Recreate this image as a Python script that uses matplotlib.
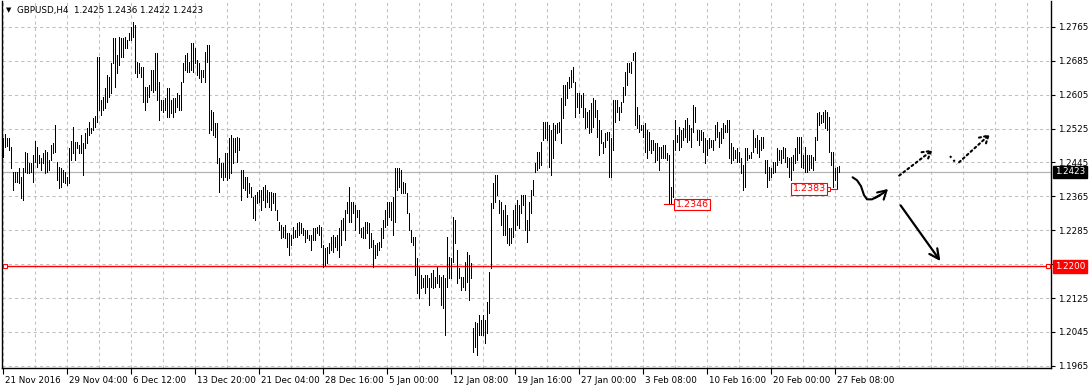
import matplotlib
matplotlib.use("Agg")
import matplotlib.pyplot as plt
import numpy as np
from matplotlib.transforms import blended_transform_factory, ScaledTranslation

symbol = "GBPUSD,H4"
last_ohlc = ["1.2425", "1.2436", "1.2422", "1.2423"]

# H4 bar highs / lows, 21 Nov 2016 -> 27 Feb 2017
highs = [
    1.2502, 1.2512, 1.2502, 1.2502, 1.2481, 1.2422, 1.2422, 1.2422, 1.2432, 1.2410,
    1.2432, 1.2469, 1.2467, 1.2443, 1.2443, 1.2462, 1.2495, 1.2481, 1.2462, 1.2455,
    1.2467, 1.2474, 1.2469, 1.2450, 1.2486, 1.2491, 1.2533, 1.2446, 1.2434, 1.2432,
    1.2427, 1.2422, 1.2410, 1.2479, 1.2495, 1.2528, 1.2493, 1.2493, 1.2486, 1.2509,
    1.2491, 1.2514, 1.2526, 1.2540, 1.2526, 1.2550, 1.2554, 1.2693, 1.2693, 1.2592,
    1.2599, 1.2620, 1.2651, 1.2646, 1.2679, 1.2738, 1.2738, 1.2698, 1.2741, 1.2738,
    1.2738, 1.2741, 1.2734, 1.2750, 1.2764, 1.2776, 1.2769, 1.2682, 1.2679, 1.2670,
    1.2670, 1.2623, 1.2623, 1.2627, 1.2663, 1.2663, 1.2703, 1.2703, 1.2634, 1.2592,
    1.2592, 1.2597, 1.2620, 1.2620, 1.2592, 1.2597, 1.2597, 1.2609, 1.2604, 1.2634,
    1.2679, 1.2698, 1.2703, 1.2682, 1.2727, 1.2727, 1.2715, 1.2686, 1.2679, 1.2663,
    1.2663, 1.2705, 1.2722, 1.2722, 1.2568, 1.2564, 1.2538, 1.2538, 1.2455, 1.2443,
    1.2443, 1.2467, 1.2467, 1.2502, 1.2509, 1.2502, 1.2502, 1.2505, 1.2502, 1.2427,
    1.2427, 1.2410, 1.2410, 1.2396, 1.2387, 1.2363, 1.2368, 1.2375, 1.2380, 1.2380,
    1.2387, 1.2391, 1.2380, 1.2375, 1.2375, 1.2373, 1.2373, 1.2332, 1.2304, 1.2297,
    1.2292, 1.2297, 1.2278, 1.2278, 1.2273, 1.2292, 1.2285, 1.2302, 1.2304, 1.2302,
    1.2290, 1.2285, 1.2285, 1.2273, 1.2273, 1.2290, 1.2290, 1.2292, 1.2297, 1.2292,
    1.2250, 1.2243, 1.2245, 1.2255, 1.2269, 1.2273, 1.2269, 1.2273, 1.2290, 1.2309,
    1.2314, 1.2332, 1.2351, 1.2387, 1.2351, 1.2351, 1.2344, 1.2332, 1.2332, 1.2290,
    1.2292, 1.2304, 1.2304, 1.2302, 1.2278, 1.2262, 1.2250, 1.2255, 1.2257, 1.2290,
    1.2309, 1.2332, 1.2351, 1.2351, 1.2351, 1.2363, 1.2432, 1.2432, 1.2432, 1.2427,
    1.2398, 1.2396, 1.2373, 1.2325, 1.2285, 1.2269, 1.2269, 1.2219, 1.2198, 1.2179,
    1.2172, 1.2179, 1.2179, 1.2172, 1.2184, 1.2191, 1.2174, 1.2198, 1.2179, 1.2174,
    1.2179, 1.2172, 1.2269, 1.2221, 1.2219, 1.2316, 1.2309, 1.2238, 1.2196, 1.2174,
    1.2174, 1.2210, 1.2233, 1.2226, 1.2207, 1.2054, 1.2068, 1.2066, 1.2085, 1.2073,
    1.2085, 1.2073, 1.2115, 1.2186, 1.2349, 1.2396, 1.2415, 1.2415, 1.2356, 1.2351,
    1.2332, 1.2344, 1.2321, 1.2290, 1.2290, 1.2332, 1.2344, 1.2356, 1.2344, 1.2368,
    1.2368, 1.2368, 1.2309, 1.2351, 1.2380, 1.2403, 1.2443, 1.2469, 1.2469, 1.2493,
    1.2540, 1.2540, 1.2540, 1.2533, 1.2521, 1.2538, 1.2533, 1.2538, 1.2540, 1.2597,
    1.2627, 1.2627, 1.2634, 1.2646, 1.2663, 1.2670, 1.2634, 1.2609, 1.2609, 1.2604,
    1.2609, 1.2573, 1.2564, 1.2568, 1.2585, 1.2597, 1.2592, 1.2568, 1.2545, 1.2521,
    1.2493, 1.2514, 1.2516, 1.2516, 1.2502, 1.2592, 1.2592, 1.2592, 1.2575, 1.2587,
    1.2623, 1.2658, 1.2679, 1.2679, 1.2682, 1.2703, 1.2705, 1.2575, 1.2557, 1.2533,
    1.2533, 1.2538, 1.2521, 1.2516, 1.2498, 1.2498, 1.2491, 1.2491, 1.2481, 1.2481,
    1.2486, 1.2486, 1.2467, 1.2462, 1.2387, 1.2498, 1.2545, 1.2509, 1.2528, 1.2521,
    1.2526, 1.2545, 1.2550, 1.2533, 1.2526, 1.2580, 1.2575, 1.2521, 1.2521, 1.2521,
    1.2516, 1.2502, 1.2498, 1.2502, 1.2498, 1.2498, 1.2533, 1.2540, 1.2516, 1.2526,
    1.2538, 1.2533, 1.2545, 1.2545, 1.2491, 1.2481, 1.2474, 1.2479, 1.2469, 1.2455,
    1.2439, 1.2479, 1.2479, 1.2462, 1.2469, 1.2521, 1.2502, 1.2509, 1.2498, 1.2505,
    1.2505, 1.2450, 1.2450, 1.2434, 1.2432, 1.2446, 1.2446, 1.2479, 1.2474, 1.2474,
    1.2481, 1.2479, 1.2457, 1.2455, 1.2457, 1.2462, 1.2479, 1.2505, 1.2505, 1.2505,
    1.2462, 1.2481, 1.2462, 1.2462, 1.2462, 1.2457, 1.2505, 1.2561, 1.2564, 1.2557,
    1.2564, 1.2568, 1.2564, 1.2552, 1.2469, 1.2469, 1.2432, 1.2434, 1.2436,
]
lows = [
    1.2457, 1.2481, 1.2483, 1.2474, 1.2432, 1.2380, 1.2398, 1.2398, 1.2396, 1.2361,
    1.2356, 1.2422, 1.2420, 1.2420, 1.2422, 1.2398, 1.2446, 1.2434, 1.2443, 1.2427,
    1.2443, 1.2420, 1.2422, 1.2427, 1.2450, 1.2467, 1.2469, 1.2403, 1.2384, 1.2387,
    1.2398, 1.2396, 1.2391, 1.2396, 1.2450, 1.2467, 1.2450, 1.2479, 1.2467, 1.2467,
    1.2415, 1.2479, 1.2491, 1.2509, 1.2514, 1.2521, 1.2528, 1.2540, 1.2568, 1.2557,
    1.2568, 1.2573, 1.2587, 1.2599, 1.2609, 1.2679, 1.2623, 1.2656, 1.2675, 1.2693,
    1.2693, 1.2715, 1.2715, 1.2734, 1.2734, 1.2741, 1.2656, 1.2646, 1.2656, 1.2646,
    1.2587, 1.2568, 1.2587, 1.2599, 1.2616, 1.2611, 1.2616, 1.2592, 1.2545, 1.2568,
    1.2564, 1.2568, 1.2552, 1.2552, 1.2561, 1.2552, 1.2564, 1.2575, 1.2568, 1.2568,
    1.2634, 1.2663, 1.2658, 1.2658, 1.2663, 1.2658, 1.2679, 1.2651, 1.2644, 1.2634,
    1.2646, 1.2634, 1.2682, 1.2514, 1.2521, 1.2509, 1.2505, 1.2443, 1.2375, 1.2410,
    1.2403, 1.2410, 1.2403, 1.2408, 1.2420, 1.2443, 1.2469, 1.2446, 1.2474, 1.2356,
    1.2384, 1.2380, 1.2363, 1.2373, 1.2363, 1.2314, 1.2309, 1.2349, 1.2351, 1.2332,
    1.2356, 1.2339, 1.2351, 1.2339, 1.2332, 1.2349, 1.2332, 1.2309, 1.2285, 1.2266,
    1.2269, 1.2266, 1.2245, 1.2226, 1.2250, 1.2266, 1.2269, 1.2269, 1.2273, 1.2278,
    1.2273, 1.2257, 1.2266, 1.2262, 1.2238, 1.2262, 1.2262, 1.2278, 1.2273, 1.2245,
    1.2198, 1.2203, 1.2207, 1.2231, 1.2238, 1.2233, 1.2245, 1.2238, 1.2221, 1.2250,
    1.2285, 1.2262, 1.2325, 1.2304, 1.2304, 1.2325, 1.2285, 1.2316, 1.2278, 1.2269,
    1.2266, 1.2266, 1.2278, 1.2243, 1.2245, 1.2198, 1.2219, 1.2226, 1.2238, 1.2245,
    1.2266, 1.2292, 1.2297, 1.2316, 1.2309, 1.2273, 1.2304, 1.2380, 1.2387, 1.2373,
    1.2373, 1.2373, 1.2325, 1.2285, 1.2257, 1.2250, 1.2179, 1.2137, 1.2125, 1.2148,
    1.2151, 1.2137, 1.2151, 1.2108, 1.2151, 1.2148, 1.2151, 1.2160, 1.2151, 1.2108,
    1.2101, 1.2037, 1.2151, 1.2172, 1.2172, 1.2210, 1.2255, 1.2160, 1.2172, 1.2144,
    1.2151, 1.2144, 1.2162, 1.2120, 1.2172, 1.1997, 1.2009, 1.1990, 1.2037, 1.2037,
    1.2037, 1.2019, 1.2042, 1.2089, 1.2196, 1.2337, 1.2351, 1.2368, 1.2325, 1.2297,
    1.2273, 1.2273, 1.2255, 1.2250, 1.2255, 1.2269, 1.2285, 1.2297, 1.2290, 1.2325,
    1.2344, 1.2285, 1.2257, 1.2285, 1.2325, 1.2368, 1.2422, 1.2427, 1.2432, 1.2439,
    1.2498, 1.2502, 1.2498, 1.2434, 1.2415, 1.2455, 1.2498, 1.2514, 1.2516, 1.2491,
    1.2550, 1.2580, 1.2597, 1.2620, 1.2623, 1.2634, 1.2552, 1.2575, 1.2561, 1.2575,
    1.2552, 1.2526, 1.2528, 1.2514, 1.2516, 1.2528, 1.2552, 1.2505, 1.2462, 1.2491,
    1.2467, 1.2481, 1.2498, 1.2410, 1.2410, 1.2474, 1.2540, 1.2564, 1.2545, 1.2564,
    1.2587, 1.2604, 1.2627, 1.2658, 1.2656, 1.2686, 1.2533, 1.2526, 1.2516, 1.2521,
    1.2505, 1.2469, 1.2455, 1.2474, 1.2467, 1.2474, 1.2446, 1.2450, 1.2427, 1.2455,
    1.2455, 1.2455, 1.2450, 1.2346, 1.2349, 1.2363, 1.2474, 1.2493, 1.2474, 1.2481,
    1.2498, 1.2505, 1.2493, 1.2498, 1.2481, 1.2516, 1.2540, 1.2498, 1.2486, 1.2498,
    1.2469, 1.2443, 1.2462, 1.2479, 1.2481, 1.2474, 1.2498, 1.2505, 1.2481, 1.2491,
    1.2502, 1.2516, 1.2516, 1.2455, 1.2443, 1.2450, 1.2455, 1.2446, 1.2446, 1.2420,
    1.2380, 1.2387, 1.2450, 1.2455, 1.2455, 1.2469, 1.2481, 1.2467, 1.2457, 1.2474,
    1.2479, 1.2420, 1.2387, 1.2403, 1.2410, 1.2420, 1.2422, 1.2439, 1.2450, 1.2443,
    1.2455, 1.2446, 1.2434, 1.2410, 1.2403, 1.2427, 1.2443, 1.2450, 1.2467, 1.2434,
    1.2432, 1.2422, 1.2422, 1.2427, 1.2432, 1.2427, 1.2450, 1.2498, 1.2533, 1.2538,
    1.2540, 1.2526, 1.2521, 1.2469, 1.2439, 1.2387, 1.2403, 1.2383, 1.2422,
]

date_labels = [
    "21 Nov 2016", "29 Nov 04:00", "6 Dec 12:00", "13 Dec 20:00",
    "21 Dec 04:00", "28 Dec 16:00", "5 Jan 00:00", "12 Jan 08:00",
    "19 Jan 16:00", "27 Jan 00:00", "3 Feb 08:00", "10 Feb 16:00",
    "20 Feb 00:00", "27 Feb 08:00",
]
bars_per_label = 32

price_levels = [1.1965, 1.2045, 1.2125, 1.2205, 1.2285, 1.2365,
                1.2445, 1.2525, 1.2605, 1.2685, 1.2765]
price_labels = ["1.1965", "1.2045", "1.2125", "", "1.2285", "1.2365",
                "1.2445", "1.2525", "1.2605", "1.2685", "1.2765"]

support_level = 1.2200
current_price = float(last_ohlc[3])

# marked lows (bar index, label text)
low_marks = [(333, "1.2346"), (417, "1.2383")]

# hand drawn scenario arrows: (bar index, price) points
curve_arrow = [(424.8, 1.2410), (427.0, 1.2403), (429.0, 1.2389), (430.5, 1.2368),
               (432.0, 1.2358), (434.5, 1.2358), (438.5, 1.2368), (443.5, 1.2387)]
dotted_arrow_1 = [(447.0, 1.2410), (466.0, 1.2479)]
dotted_arrow_2 = [(473.5, 1.2460), (477.0, 1.2441), (494.5, 1.2516)]
down_arrow = [(448.0, 1.2349), (469.5, 1.2207)]

W, H = 1091, 389
fig = plt.figure(figsize=(W / 100, H / 100), dpi=100)
ax = fig.add_axes([2 / W, 21 / H, 1049 / W, 367 / H])

idx = np.arange(len(highs))
grid_col = "#c0c0c0"

ax.set_xlim(-0.5, 524)
ax.set_ylim(1.1960, 1.2826)

# grid
for gx in np.arange(0, 524, bars_per_label // 2):
    ax.axvline(gx, color=grid_col, lw=0.75, ls=(0, (3, 3)), zorder=0)
for gy in price_levels:
    ax.axhline(gy, color=grid_col, lw=0.75, ls=(0, (3, 3)), zorder=0)

# current price line and support line
ax.axhline(current_price, color="#b4b4b4", lw=0.9, zorder=1)
ax.axhline(support_level, color="red", lw=1.0, zorder=2)
bt = blended_transform_factory(ax.transAxes, ax.transData)
ax.plot([0.003, 0.997], [support_level, support_level], ls="none", marker="s",
        ms=3.5, mfc="white", mec="red", mew=0.8, transform=bt, zorder=4, clip_on=False)

# price bars
ax.vlines(idx, lows, highs, colors="black", linewidth=0.7, antialiased=False, zorder=3)

# marked lows
i0, t0 = low_marks[0]
ax.plot([i0 - 2.5, i0 + 2.5], [lows[i0], lows[i0]], color="red", lw=0.8, zorder=4)
ax.text(i0 + 3.3, lows[i0], t0, color="red", fontsize=6.8, ha="left", va="center",
        zorder=5, bbox=dict(boxstyle="square,pad=0.15", fc="white", ec="red", lw=0.8))
i1, t1 = low_marks[1]
ax.plot([i1 - 5, i1], [lows[i1], lows[i1]], color="red", lw=0.8, zorder=4)
ax.plot([i1 - 4.6], [lows[i1]], ls="none", marker="s", ms=2.5, mfc="white",
        mec="red", mew=0.7, zorder=5)
ax.text(i1 - 5.6, lows[i1], t1, color="red", fontsize=6.8, ha="right", va="center",
        zorder=5, bbox=dict(boxstyle="square,pad=0.15", fc="white", ec="red", lw=0.8))

# scenario arrows
cx, cy = zip(*curve_arrow)
ax.plot(cx[:-1], cy[:-1], color="black", lw=1.5, solid_capstyle="round", zorder=6)
ax.annotate("", xy=curve_arrow[-1], xytext=curve_arrow[-3],
            arrowprops=dict(arrowstyle="->,head_length=0.6,head_width=0.35",
                            color="black", lw=1.5,
                            connectionstyle="arc3,rad=0.1"), zorder=6)
ax.annotate("", xy=dotted_arrow_1[1], xytext=dotted_arrow_1[0],
            arrowprops=dict(arrowstyle="->,head_length=0.6,head_width=0.35",
                            color="black", lw=1.5, ls=(0, (1, 1.5))), zorder=6)
dx, dy = zip(*dotted_arrow_2)
ax.plot(dx[:2], dy[:2], color="black", lw=1.5, ls=(0, (1, 1.5)), zorder=6)
ax.annotate("", xy=dotted_arrow_2[2], xytext=dotted_arrow_2[1],
            arrowprops=dict(arrowstyle="->,head_length=0.6,head_width=0.35",
                            color="black", lw=1.5, ls=(0, (1, 1.5))), zorder=6)
ax.annotate("", xy=down_arrow[1], xytext=down_arrow[0],
            arrowprops=dict(arrowstyle="->,head_length=0.7,head_width=0.35",
                            color="black", lw=1.6), zorder=6)

# axes styling
ax.spines["top"].set_visible(False)
for side in ["left", "bottom", "right"]:
    ax.spines[side].set_color("black")
    ax.spines[side].set_linewidth(1.0)

ax.yaxis.tick_right()
ax.set_yticks(price_levels)
ax.set_yticklabels(price_labels)
ax.tick_params(axis="y", direction="out", length=3, width=0.8, pad=2,
               labelsize=6.3, colors="black")

tick_pos = np.arange(len(date_labels)) * bars_per_label
ax.set_xticks(tick_pos)
ax.set_xticklabels(date_labels, ha="left")
ax.tick_params(axis="x", direction="out", length=4, width=0.8, pad=2,
               labelsize=6.3, colors="black")
offset = ScaledTranslation(2 / 100, 0, fig.dpi_scale_trans)
for lbl in ax.get_xticklabels():
    lbl.set_transform(lbl.get_transform() + offset)

# right side price tags
ax.text(1.004, current_price, last_ohlc[3], transform=bt, color="white",
        fontsize=6.3, ha="left", va="center", clip_on=False, zorder=10,
        bbox=dict(boxstyle="square,pad=0.2", fc="black", ec="black"))
ax.text(1.004, support_level, f"{support_level:.4f}", transform=bt, color="white",
        fontsize=6.3, ha="left", va="center", clip_on=False, zorder=10,
        bbox=dict(boxstyle="square,pad=0.2", fc="red", ec="red"))

# header
fig.text(6 / W, 1 - 10 / H, "\u25bc", fontsize=5, va="center", ha="left")
fig.text(17 / W, 1 - 10 / H, symbol + "  " + " ".join(last_ohlc),
         fontsize=6.3, va="center", ha="left")

fig.savefig("out.png", dpi=100)
